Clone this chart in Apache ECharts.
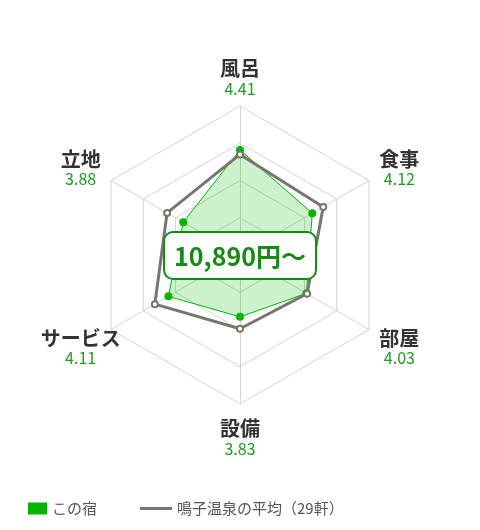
<!DOCTYPE html>
<html>
<head>
<meta charset="utf-8">
<script src="https://cdn.jsdelivr.net/npm/echarts@6/dist/echarts.min.js"></script>
<style>
  html, body { margin: 0; padding: 0; background: #fff; }
  #chart { width: 480px; height: 530px; }
</style>
</head>
<body>
<div id="chart"></div>
<script>
// 評価項目（上から時計回り）
var categories = ['風呂', '食事', '部屋', '設備', 'サービス', '立地'];
// この宿
var hotelScores = [4.41, 4.12, 4.03, 3.83, 4.11, 3.88];
// 鳴子温泉の平均（29軒）
var areaAverage = [4.35, 4.29, 4.04, 3.99, 4.32, 4.13];
var scoreMin = 3;
var scoreMax = 5;
var priceText = '10,890円～';
var hotelName = 'この宿';
var averageName = '鳴子温泉の平均（29軒）';

var green = '#00b400';
var gray = '#77756f';

// echartsのレーダーは反時計回りに並ぶので順番を入れ替える
function ccw(arr) {
    var out = [arr[0]];
    for (var i = arr.length - 1; i > 0; i--) out.push(arr[i]);
    return out;
}

// ラベルの上下位置調整用のスペーサー（index順）
var spaceBefore = [13, 10, 0, 0, 0, 10];
var spaceAfter = [0, 0, 0, 3, 0, 0];

var myChart = echarts.init(document.getElementById('chart'));
var option = {
    animation: false,
    title: {
        text: priceText,
        left: 'center',
        top: 232,
        padding: [11, 10, 10, 10],
        backgroundColor: '#fff',
        borderColor: '#158a15',
        borderWidth: 2,
        borderRadius: 9,
        textStyle: {
            color: '#158a15',
            fontSize: 25,
            lineHeight: 26,
            fontWeight: 'bold',
            fontFamily: 'Noto Sans CJK JP'
        },
        z: 10
    },
    legend: [{
        data: [hotelName],
        left: 28,
        top: 501,
        padding: 0,
        icon: 'rect',
        itemWidth: 19,
        itemHeight: 12,
        itemGap: 6,
        textStyle: { color: '#555', fontSize: 15, fontFamily: 'Noto Sans CJK JP' },
        selectedMode: false
    }, {
        data: [averageName],
        left: 140,
        top: 501,
        padding: 0,
        icon: 'rect',
        itemWidth: 32,
        itemHeight: 3,
        itemStyle: { color: gray },
        textStyle: { color: '#555', fontSize: 15, fontFamily: 'Noto Sans CJK JP' },
        selectedMode: false
    }],
    radar: {
        center: [240, 255],
        radius: 149,
        splitNumber: 4,
        startAngle: 90,
        indicator: ccw(categories).map(function (c) {
            return { name: c, min: scoreMin, max: scoreMax };
        }),
        axisName: {
            align: 'center',
            verticalAlign: 'middle',
            formatter: function (name) {
                var i = categories.indexOf(name);
                var s = '{n|' + name + '}\n{v|' + hotelScores[i].toFixed(2) + '}';
                if (spaceBefore[i]) s = '{sp' + spaceBefore[i] + '| }\n' + s;
                if (spaceAfter[i]) s = s + '\n{sp' + spaceAfter[i] + '| }';
                return s;
            },
            rich: {
                n: { fontSize: 20, fontWeight: 'bold', color: '#333', fontFamily: 'Noto Sans CJK JP', lineHeight: 22, align: 'center' },
                v: { fontSize: 16, color: '#1f9a1f', fontFamily: 'Noto Sans CJK JP', lineHeight: 18, align: 'center' },
                sp3: { fontSize: 1, lineHeight: 3 },
                sp10: { fontSize: 1, lineHeight: 10 },
                sp13: { fontSize: 1, lineHeight: 13 }
            }
        },
        nameGap: 35,
        splitLine: { lineStyle: { color: '#d6d3cc', width: 1 } },
        axisLine: { lineStyle: { color: '#d6d3cc', width: 1 } },
        splitArea: { show: false }
    },
    series: [{
        type: 'radar',
        z: 2,
        data: [{
            name: hotelName,
            value: ccw(hotelScores),
            symbol: 'circle',
            symbolSize: 8,
            itemStyle: { color: green },
            lineStyle: { color: green, width: 1 },
            areaStyle: { color: 'rgba(0,180,0,0.28)' }
        }]
    }, {
        type: 'radar',
        z: 3,
        data: [{
            name: averageName,
            value: ccw(areaAverage),
            symbol: 'emptyCircle',
            symbolSize: 6,
            itemStyle: { color: gray, borderWidth: 1.5 },
            lineStyle: { color: gray, width: 3 }
        }]
    }]
};
myChart.setOption(option);
</script>
</body>
</html>
